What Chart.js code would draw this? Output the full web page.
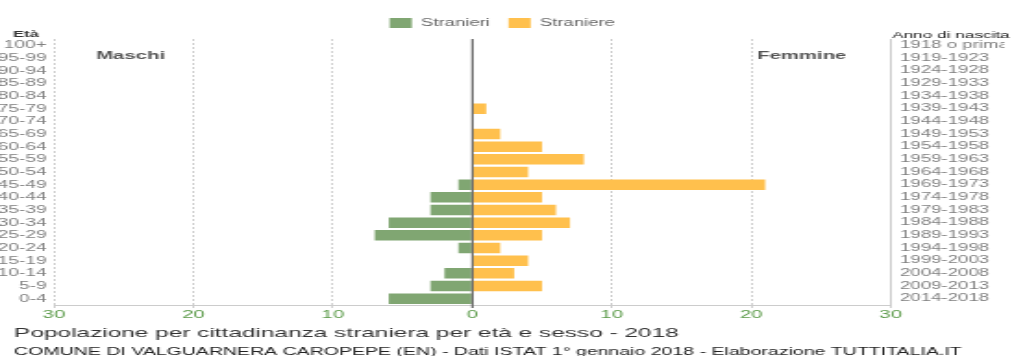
<!DOCTYPE html>
<html><head><meta charset="utf-8">
<script src="https://cdn.jsdelivr.net/npm/chart.js@4/dist/chart.umd.min.js"></script>
<style>
html,body{margin:0;padding:0;background:#fff;overflow:hidden;}
#wrap{position:absolute;left:0;top:0;width:547px;height:356px;transform:scaleX(1.85009);transform-origin:0 0;}
canvas{display:block;}
</style></head><body>
<div id="wrap"><canvas id="c" width="547" height="356"></canvas></div>
<script>
// Age classes, youngest first (drawn bottom to top)
const ageGroups = ['0-4','5-9','10-14','15-19','20-24','25-29','30-34','35-39','40-44','45-49','50-54','55-59','60-64','65-69','70-74','75-79','80-84','85-89','90-94','95-99','100+'];
const birthYears = ['2014-2018','2009-2013','2004-2008','1999-2003','1994-1998','1989-1993','1984-1988','1979-1983','1974-1978','1969-1973','1964-1968','1959-1963','1954-1958','1949-1953','1944-1948','1939-1943','1934-1938','1929-1933','1924-1928','1919-1923','1918 o prima'];
const stranieri = [6,3,2,0,1,7,6,3,3,1,0,0,0,0,0,0,0,0,0,0,0];   // males
const straniere = [0,5,3,4,2,5,7,6,5,21,4,8,5,2,0,1,0,0,0,0,0];  // females
const xMin = -30, xMax = 30, xStep = 10;
const titleText = 'Popolazione per cittadinanza straniera per età e sesso - 2018';
const subtitleText = 'COMUNE DI VALGUARNERA CAROPEPE (EN) - Dati ISTAT 1° gennaio 2018 - Elaborazione TUTTITALIA.IT';

const FONT = '"Liberation Sans", Arial, Helvetica, sans-serif';
Chart.defaults.font.family = FONT;

const textPlugin = {
  id: 'texts',
  afterInit(chart) {
    const lg = chart.legend;
    if (lg) {
      const f = lg.fit;
      lg.fit = function() { f.call(this); this.height = 31; };
    }
  },
  afterDraw(chart) {
    const ctx = chart.ctx;
    ctx.save();
    ctx.textBaseline = 'alphabetic';
    ctx.textAlign = 'left';
    ctx.fillStyle = '#555';
    ctx.font = 'bold 11px ' + FONT;
    ctx.fillText('Maschi', 51.9, 59);
    ctx.fillText('Femmine', 409.2, 59);
    ctx.fillStyle = '#333';
    ctx.font = 'bold 9px ' + FONT;
    ctx.fillText('Età', 7, 36.5);
    ctx.fillStyle = '#222';
    ctx.font = '9.3px ' + FONT;
    ctx.fillText('Anno di nascita', 482.2, 37.5);
    ctx.fillStyle = '#333';
    ctx.font = '13.2px ' + FONT;
    ctx.fillText(titleText, 7.6, 337);
    ctx.fillStyle = '#222';
    ctx.font = '10.55px ' + FONT;
    ctx.fillText(subtitleText, 7.6, 354.5);
    // zero line
    const xs = chart.scales.x;
    const x0 = xs.getPixelForValue(0);
    ctx.strokeStyle = '#555';
    ctx.lineWidth = 1;
    ctx.beginPath();
    ctx.moveTo(x0, chart.chartArea.top);
    ctx.lineTo(x0, chart.chartArea.bottom + 3);
    ctx.stroke();
    ctx.restore();
  }
};

new Chart(document.getElementById('c'), {
  type: 'bar',
  data: {
    labels: ageGroups,
    datasets: [
      { label: 'Stranieri', data: stranieri.map(v => -v), backgroundColor: '#80a672', borderWidth: 0, barPercentage: 0.83, categoryPercentage: 1 },
      { label: 'Straniere', data: straniere, backgroundColor: '#ffc04d', borderWidth: 0, barPercentage: 0.83, categoryPercentage: 1 }
    ]
  },
  options: {
    indexAxis: 'y',
    responsive: false,
    animation: false,
    devicePixelRatio: 1,
    layout: { padding: { top: 8, bottom: 31, left: 0, right: 4 } },
    plugins: {
      legend: {
        position: 'top',
        labels: { boxWidth: 12, boxHeight: 10, padding: 10, color: '#666', font: { size: 10 } }
      },
      tooltip: { enabled: false },
      title: { display: false }
    },
    scales: {
      x: {
        type: 'linear', min: xMin, max: xMax, stacked: true,
        ticks: { stepSize: xStep, callback: v => Math.abs(v), color: '#5a9a48', font: { size: 11 }, padding: 0, maxRotation: 0 },
        grid: { color: '#cfcfcf', lineWidth: 1, tickLength: 3, drawTicks: true },
        border: { display: true, color: '#cccccc', dash: c => (c.tick && c.tick.value !== 0) ? [2, 2] : [] },
        afterFit: s => { s.height = 20; }
      },
      y: {
        type: 'category', stacked: true, reverse: true, position: 'left',
        ticks: { color: '#808080', font: { size: 10.3 }, padding: 4, autoSkip: false },
        grid: { display: false, drawTicks: false },
        border: { display: false },
        afterFit: s => { s.width = 29.2; }
      },
      y2: {
        type: 'category', labels: birthYears, reverse: true, position: 'right', offset: true,
        ticks: { color: '#808080', font: { size: 10.1 }, padding: 5, autoSkip: false },
        grid: { display: false, drawTicks: false },
        border: { display: true, color: '#cccccc' },
        afterFit: s => { s.width = 61.6; }
      }
    }
  },
  plugins: [textPlugin]
});
</script>
</body></html>
